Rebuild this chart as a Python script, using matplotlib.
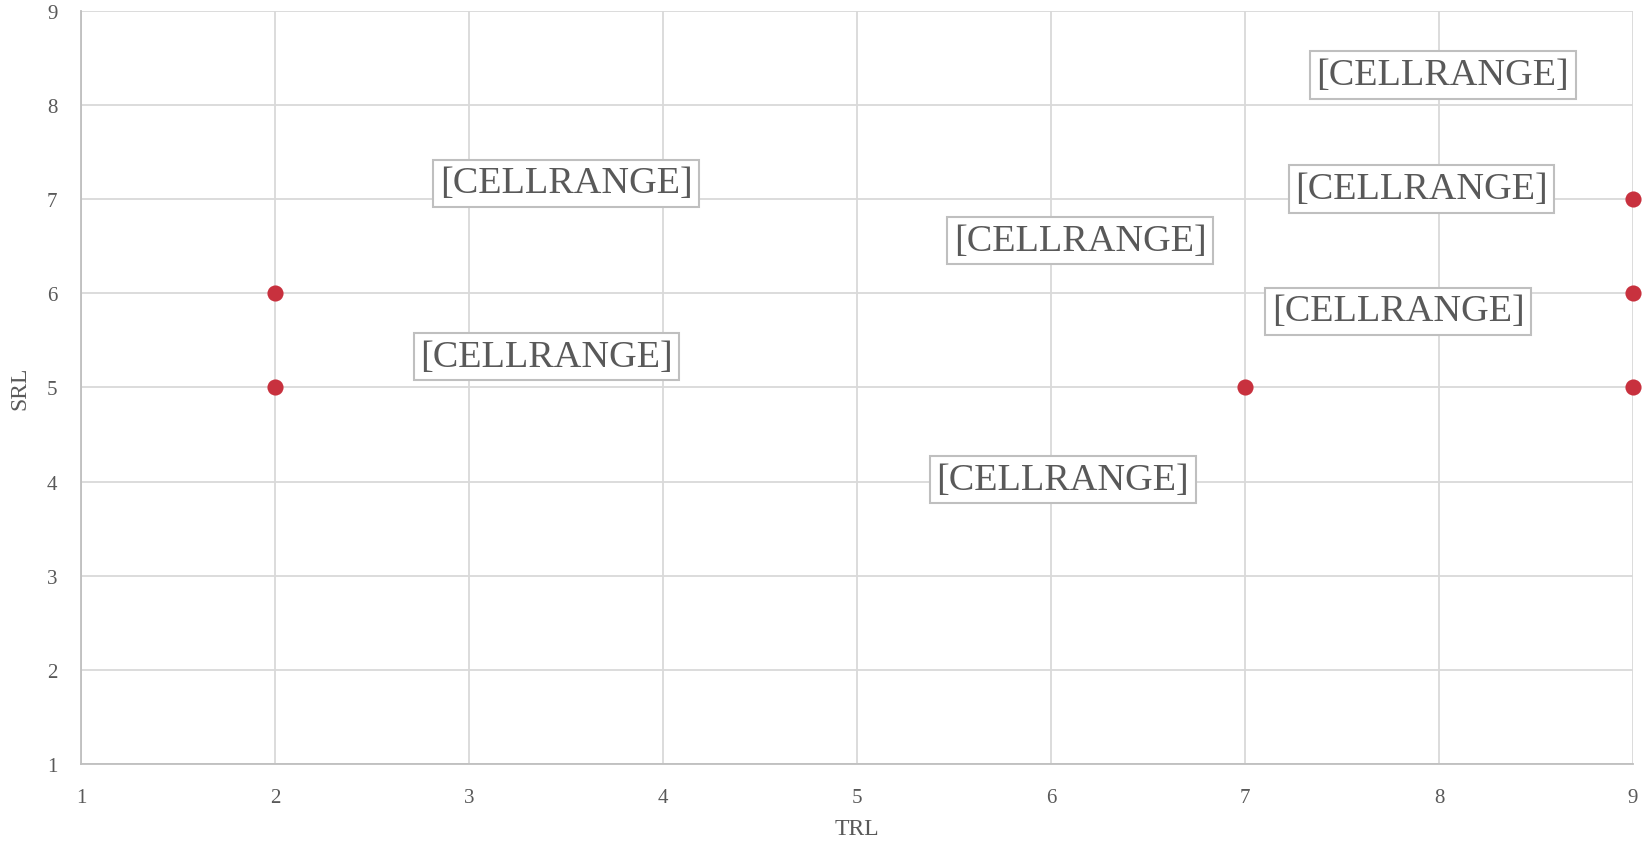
import matplotlib
matplotlib.use("Agg")
import matplotlib.pyplot as plt

# TRL / SRL pairs
trl = [2, 2, 7, 9, 9, 9]
srl = [5, 6, 5, 5, 6, 7]

# data label anchors (label text left unresolved in source workbook)
label_x = [3.5, 3.4, 6.15, 6.06, 8.02, 7.91, 7.79]
label_y = [7.17, 5.33, 6.56, 4.02, 8.32, 7.11, 5.81]
label_text = "[CELLRANGE]"

ticks = [1, 2, 3, 4, 5, 6, 7, 8, 9]

plt.rcParams['font.family'] = ['Liberation Serif', 'DejaVu Serif']

fig = plt.figure(figsize=(16.47, 8.45), dpi=100)
ax = fig.add_axes([0.0492, 0.0947, 0.9423, 0.8911])

ax.scatter(trl, srl, s=135, c='#c8313e', zorder=5, clip_on=False, linewidths=0)

for x, y in zip(label_x, label_y):
    ax.text(x, y, label_text, ha='center', va='center', fontsize=27.5,
            color='#595959', zorder=6,
            bbox=dict(boxstyle='square,pad=0.17', fc='white', ec='#bfbfbf', lw=1.5))

ax.set_xlim(1, 9)
ax.set_ylim(1, 9)
ax.set_xticks(ticks)
ax.set_yticks(ticks)
ax.grid(True, color='#d9d9d9', lw=1.3)
ax.set_axisbelow(True)
for side in ['top', 'right']:
    ax.spines[side].set_visible(False)
for side in ['left', 'bottom']:
    ax.spines[side].set_color('#bfbfbf')
    ax.spines[side].set_linewidth(1.3)
ax.tick_params(length=0, labelsize=15, labelcolor='#595959')
ax.tick_params(axis='x', pad=17)
ax.tick_params(axis='y', pad=17)
ax.set_xlabel('TRL', fontsize=17, color='#595959', labelpad=8)
ax.set_ylabel('SRL', fontsize=17, color='#595959', labelpad=12)

fig.savefig('out.png', dpi=100)
